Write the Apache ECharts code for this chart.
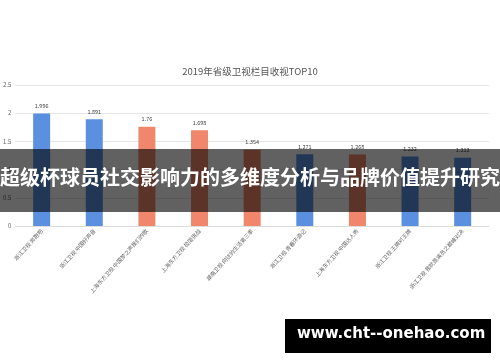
<!DOCTYPE html>
<html>
<head>
<meta charset="utf-8">
<script src="https://cdn.jsdelivr.net/npm/echarts@6/dist/echarts.min.js"></script>
<style>
html,body{margin:0;padding:0;background:#fff;}
#main{width:500px;height:362px;}
</style>
</head>
<body>
<div id="main"></div>
<script>
var chartTitle = '2019年省级卫视栏目收视TOP10';
var categories = ['浙江卫视 奔跑吧', '浙江卫视 中国好声音', '上海东方卫视 中国梦之声我们的歌', '上海东方卫视 极限挑战', '湖南卫视 向往的生活第三季', '浙江卫视 青春环游记', '上海东方卫视 中国达人秀', '浙江卫视 王牌对王牌', '浙江卫视 我就是演员之巅峰对决'];
var values = [1.996, 1.891, 1.76, 1.698, 1.354, 1.271, 1.268, 1.232, 1.212];
var groups = ['浙江', '浙江', '东方', '东方', '东方', '浙江', '东方', '浙江', '浙江'];
var yTicks = [0, 0.5, 1, 1.5, 2, 2.5];
var bannerText = '超级杯球员社交影响力的多维度分析与品牌价值提升研究';
var siteText = 'www.cht--onehao.com';

var groupColors = {'浙江': '#5b8fe0', '东方': '#f0866c'};
var font = '"Noto Sans CJK SC", "Noto Sans", sans-serif';

var chart = echarts.init(document.getElementById('main'), null, {renderer: 'canvas'});
chart.setOption({
  animation: false,
  backgroundColor: '#ffffff',
  textStyle: {fontFamily: font},
  title: {
    text: chartTitle,
    left: 'center',
    top: 62,
    textStyle: {fontSize: 9.5, fontWeight: 'normal', color: '#555', fontFamily: font}
  },
  grid: {left: 15, right: 11, top: 85, bottom: 136, containLabel: false},
  xAxis: {
    type: 'category',
    data: categories,
    axisLine: {lineStyle: {color: '#ddd'}},
    axisTick: {show: false},
    axisLabel: {rotate: 48, fontSize: 5.5, color: '#666', interval: 0, margin: 4, fontFamily: font}
  },
  yAxis: {
    type: 'value',
    min: yTicks[0],
    max: yTicks[yTicks.length - 1],
    interval: 0.5,
    axisLine: {show: false},
    axisTick: {show: false},
    axisLabel: {fontSize: 6, color: '#666', margin: 4, fontFamily: font},
    splitLine: {lineStyle: {color: '#e6e6e6'}}
  },
  series: [{
    type: 'bar',
    barWidth: 17,
    data: values.map(function (v, i) {
      return {value: v, itemStyle: {color: groupColors[groups[i]]}};
    }),
    label: {show: true, position: 'top', fontSize: 5.5, color: '#444', distance: 5, fontFamily: font}
  }],
  graphic: [
    {type: 'rect', left: 0, top: 149, shape: {width: 500, height: 63}, style: {fill: 'rgba(0,0,0,0.62)'}, z: 100},
    {type: 'text', left: 'center', top: 167, style: {text: bannerText, fill: '#fff', font: 'bold 20px ' + font}, z: 101},
    {type: 'rect', left: 285, top: 319, shape: {width: 206, height: 34}, style: {fill: '#000'}, z: 100},
    {type: 'text', left: 297, top: 327, style: {text: siteText, fill: '#fff', font: 'bold 15px "DejaVu Sans", sans-serif'}, z: 101}
  ]
});
</script>
</body>
</html>
